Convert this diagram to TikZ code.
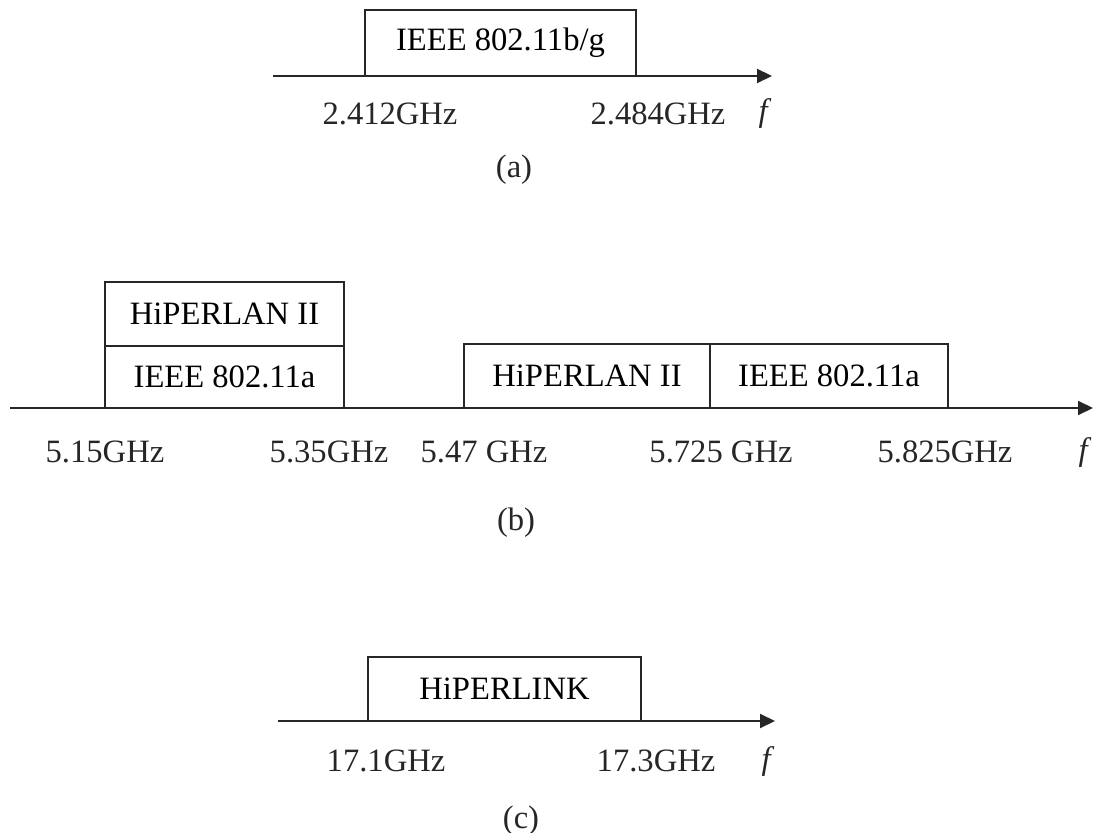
\documentclass[tikz,border=0pt]{standalone}
\usepackage{fontspec}
\setmainfont{Liberation Serif}
\usetikzlibrary{arrows.meta,positioning}
\definecolor{ink}{HTML}{262626}

\begin{document}
\begin{tikzpicture}[
  x=0.5pt,y=-0.5pt,
  font=\fontsize{16.3}{19}\selectfont,
  band/.style={draw=ink,line width=0.7pt,inner sep=0pt,minimum width=#1,minimum height=32pt},
  axis/.style={-{Triangle[length=7.5pt,width=7pt]},line width=1pt,draw=ink},
  freq/.style={text=ink,inner sep=1pt},
  caption/.style={text=ink}
]
\useasboundingbox (0,0) rectangle (1097,833);
% (a) 2.4 GHz band
\coordinate (a0) at (273,76);
\coordinate (a1) at (772,76);
\node[band=135.5pt,minimum height=33pt] (bg) at (500.5,43) {IEEE 802.11b/g};
\draw[axis] (a0) -- (a1);
\node[freq] (fa1) at (390,114) {2.412GHz};
\node[freq] (fa2) at (658,114) {2.484GHz};
\node[freq] (fa) at (765,114) {\textit{f}};
\node[caption] (capa) at (514,170) {(a)};
% (b) 5 GHz band
\coordinate (b0) at (10,408);
\coordinate (b1) at (1093,408);
\node[band=119.5pt,minimum height=31pt] (lowa) at (224.5,377) {IEEE 802.11a};
\node[band=119.5pt] (lowh) at (224.5,314) {HiPERLAN II};
\node[band=123pt] (midh) at (587,376) {HiPERLAN II};
\node[band=119pt] (upa) at (829,376) {IEEE 802.11a};
\draw[axis] (b0) -- (b1);
\node[freq] (fb1) at (105,452) {5.15GHz};
\node[freq] (fb2) at (329,452) {5.35GHz};
\node[freq] (fb3) at (484,452) {5.47 GHz};
\node[freq] (fb4) at (721,452) {5.725 GHz};
\node[freq] (fb5) at (945,452) {5.825GHz};
\node[freq] (fb) at (1085,452) {\textit{f}};
\node[caption] (capb) at (516,523) {(b)};
% (c) 17 GHz band
\coordinate (c0) at (278,721);
\coordinate (c1) at (775,721);
\node[band=136.5pt] (link) at (504.5,689) {HiPERLINK};
\draw[axis] (c0) -- (c1);
\node[freq] (fc1) at (386,761) {17.1GHz};
\node[freq] (fc2) at (656,761) {17.3GHz};
\node[freq] (fc) at (768,761) {\textit{f}};
\node[caption] (capc) at (521,821) {(c)};
\end{tikzpicture}
\end{document}
